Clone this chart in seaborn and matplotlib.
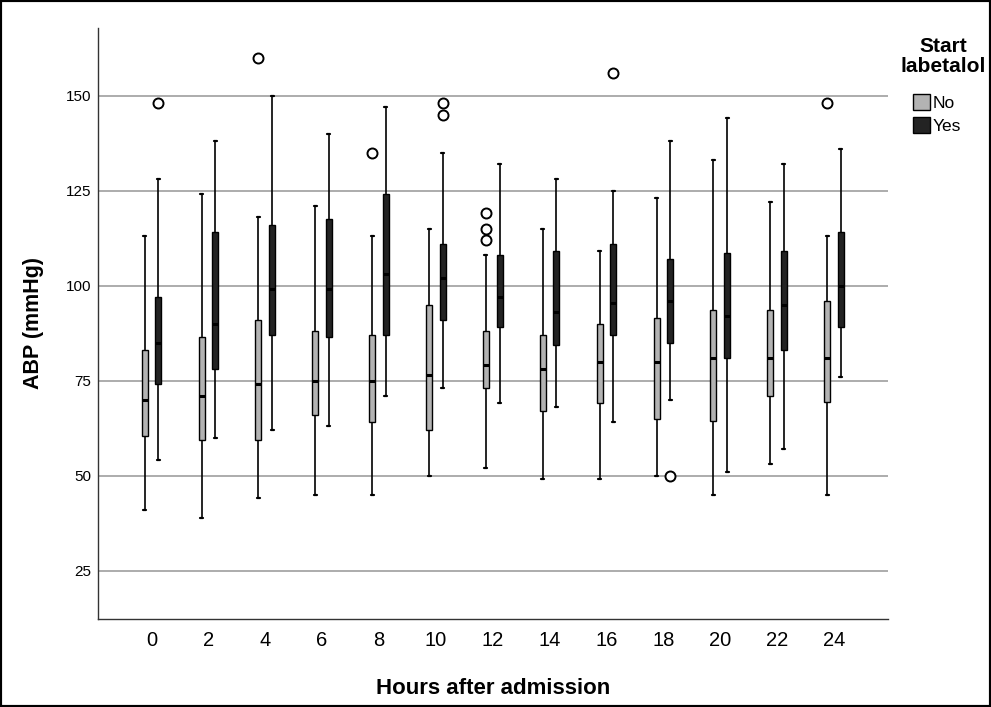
import numpy as np
import pandas as pd
import matplotlib
matplotlib.use("Agg")
import matplotlib.pyplot as plt
from matplotlib.patches import Patch, Rectangle
from matplotlib import font_manager
import seaborn as sns

# ---- data ----
hours = [0, 2, 4, 6, 8, 10, 12, 14, 16, 18, 20, 22, 24]
groups = ["No", "Yes"]

no_lo = [41, 39, 44, 45, 45, 50, 52, 49, 49, 50, 45, 53, 45]
no_q1 = [60.5, 59.5, 59.5, 66, 64, 62, 73, 67, 69, 65, 64.5, 71, 69.5]
no_med = [70, 71, 74, 75, 75, 76.5, 79, 78, 80, 80, 81, 81, 81]
no_q3 = [83, 86.5, 91, 88, 87, 95, 88, 87, 90, 91.5, 93.5, 93.5, 96]
no_hi = [113, 124, 118, 121, 113, 115, 108, 115, 109, 123, 133, 122, 113]

yes_lo = [54, 60, 62, 63, 71, 73, 69, 68, 64, 70, 51, 57, 76]
yes_q1 = [74, 78, 87, 86.5, 87, 91, 89, 84.5, 87, 85, 81, 83, 89]
yes_med = [85, 90, 99, 99, 103, 102, 97, 93, 95.5, 96, 92, 95, 100]
yes_q3 = [97, 114, 116, 117.5, 124, 111, 108, 109, 111, 107, 108.5, 109, 114]
yes_hi = [128, 138, 150, 140, 147, 135, 132, 128, 125, 138, 144, 132, 136]

out_hour = [0, 4, 8, 10, 10, 12, 12, 12, 16, 18, 24]
out_group = ["Yes", "No", "No", "Yes", "Yes", "No", "No", "No", "Yes", "Yes", "No"]
out_value = [148, 160, 135, 148, 145, 119, 115, 112, 156, 50, 148]

yticks = [25, 50, 75, 100, 125, 150]
colors = {"No": "#b3b3b3", "Yes": "#232323"}

# ---- long-form table: five-number summary per box ----
summ = {
    "No": (no_lo, no_q1, no_med, no_q3, no_hi),
    "Yes": (yes_lo, yes_q1, yes_med, yes_q3, yes_hi),
}
rows = []
for g in groups:
    for i, h in enumerate(hours):
        for arr in summ[g]:
            rows.append({"hour": h, "group": g, "abp": arr[i]})
df = pd.DataFrame(rows)

sns.set_style("white")
avail = {f.name for f in font_manager.fontManager.ttflist}
base = "Liberation Sans" if "Liberation Sans" in avail else "DejaVu Sans"
plt.rcParams["font.family"] = [base, "DejaVu Sans"]
plt.rcParams["text.color"] = "black"
plt.rcParams["axes.labelcolor"] = "black"

fig = plt.figure(figsize=(9.91, 7.07), dpi=100)
ax = fig.add_axes([98 / 991, 1 - 619 / 707, 790 / 991, (619 - 27.5) / 707])

BOX_W = 0.48
sns.boxplot(
    data=df, x="hour", y="abp", hue="group", hue_order=groups,
    order=hours, palette=colors, whis=np.inf, width=BOX_W, gap=0.56,
    linewidth=1.0, linecolor="black", dodge=True, legend=False, ax=ax,
    medianprops={"color": "black", "linewidth": 2.2},
    whiskerprops={"color": "black", "linewidth": 1.2},
    capprops={"color": "black", "linewidth": 1.6},
    boxprops={"edgecolor": "black", "linewidth": 1.0},
)

# outliers, at the same dodged positions as the boxes
offs = {"No": -BOX_W / 4, "Yes": BOX_W / 4}
ox = [hours.index(h) + offs[g] for h, g in zip(out_hour, out_group)]
sns.scatterplot(x=ox, y=out_value, ax=ax, marker="o", s=52,
                facecolor="white", edgecolor="black", linewidth=1.4,
                legend=False, zorder=4)

ax.set_ylim(12.3, 167.9)
ax.set_xlim(-0.94, 12.95)
ax.set_yticks(yticks)
ax.set_yticklabels([str(t) for t in yticks], fontsize=11)
ax.set_xticks(range(len(hours)))
ax.set_xticklabels([str(h) for h in hours], fontsize=14.5)
ax.tick_params(axis="both", length=0, colors="black")
ax.tick_params(axis="y", pad=5)
ax.tick_params(axis="x", pad=9)

ax.yaxis.grid(True, color="#a6a6a6", linewidth=1.3)
ax.xaxis.grid(False)
ax.set_axisbelow(True)
for s in ["top", "right"]:
    ax.spines[s].set_visible(False)
for s in ["left", "bottom"]:
    ax.spines[s].set_color("#333333")
    ax.spines[s].set_linewidth(1.0)

ax.set_xlabel("Hours after admission", fontsize=16, fontweight="bold", color="black")
ax.xaxis.label.set_va("center")
ax.xaxis.set_label_coords(0.5, (619 - 688) / 591.5)
ax.set_ylabel("ABP (mmHg)", fontsize=15.5, fontweight="bold", color="black")
ax.yaxis.label.set_va("center")
ax.yaxis.set_label_coords((34 - 98) / 790, 0.5)

fig.text(943 / 991, 1 - 37 / 707, "Start\nlabetalol", ha="center", va="top",
         fontsize=15, fontweight="bold", multialignment="center",
         linespacing=1.05, color="black")

handles = [Patch(facecolor=colors[g], edgecolor="black", linewidth=1.0) for g in groups]
leg = fig.legend(handles, groups, loc="upper left",
                 bbox_to_anchor=(913 / 991, 1 - 94 / 707), frameon=False,
                 fontsize=12.5, handlelength=1.0, handleheight=1.0,
                 handletextpad=0.12, labelspacing=0.38, borderpad=0,
                 borderaxespad=0)

fig.patches.append(Rectangle((0, 0), 1, 1, transform=fig.transFigure,
                             fill=False, edgecolor="black", linewidth=3))

fig.savefig("out.png", dpi=100)
